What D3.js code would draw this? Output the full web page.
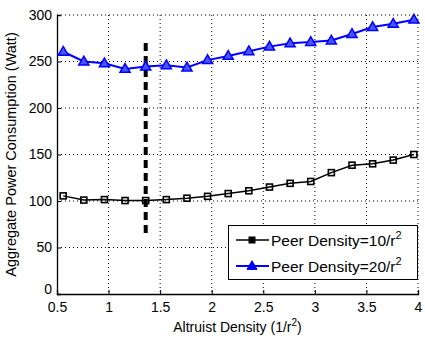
<!DOCTYPE html>
<html><head><meta charset="utf-8">
<script src="https://cdn.jsdelivr.net/npm/d3@7"></script>
<style>body{margin:0;background:#fff;} text{font-family:"Liberation Sans",Arial,sans-serif;}</style>
</head><body>
<script>
const xValues = [0.56,0.76,0.96,1.16,1.36,1.56,1.76,1.96,2.16,2.36,2.56,2.76,2.96,3.16,3.36,3.56,3.76,3.96];
const peer10 = [105.5,101,101.5,100.5,100.5,101.5,103,105,108,111,115,119,121,130.5,138.5,140,144,150];
const peer20 = [260.5,250,248,242,244.5,246,243.5,251.5,256,261,266,269.5,271,272.5,279.5,287,290.5,295];
const seriesNames = ["Peer Density=10/r", "Peer Density=20/r"];
const xTicks = [0.5,1,1.5,2,2.5,3,3.5,4];
const yTicks = [0,50,100,150,200,250,300];
const markerX = 1.36, markerRange = [62, 270];

const W=425,H=337, L=57,R=418,T=15,B=294;
const svg=d3.select("body").append("svg").attr("width",W).attr("height",H);
const x=d3.scaleLinear().domain([0.5,4]).range([L,R]);
const y=d3.scaleLinear().domain([0,300]).range([B,T]);

// grid
svg.append("g").selectAll("line").data(yTicks.filter(d=>d>0)).join("line")
 .attr("x1",L).attr("x2",R).attr("y1",d=>y(d)).attr("y2",d=>y(d))
 .attr("stroke","#000").attr("stroke-width",1).attr("stroke-dasharray","1,3");
svg.append("g").selectAll("line").data(xTicks.filter(d=>d>0.5)).join("line")
 .attr("y1",T).attr("y2",B).attr("x1",d=>x(d)).attr("x2",d=>x(d))
 .attr("stroke","#000").attr("stroke-width",1).attr("stroke-dasharray","1,3");

// axes
const xa=svg.append("g").attr("transform",`translate(0,${B})`)
 .call(d3.axisBottom(x).tickValues(xTicks).tickSize(-4).tickPadding(8).tickFormat(d=>d));
const ya=svg.append("g").attr("transform",`translate(${L},0)`)
 .call(d3.axisLeft(y).tickValues(yTicks).tickSize(-4).tickPadding(5));
[xa,ya].forEach(a=>{a.selectAll("text").attr("font-size",14).attr("fill","#000").attr("font-family","Liberation Sans, Arial, sans-serif");
 a.select(".domain").attr("stroke","#000").attr("stroke-width",1.3);
 a.selectAll(".tick line").attr("stroke","#000");});
ya.selectAll(".tick text").filter(d=>d===0).attr("dy","-0.05em");

// dashed vertical marker
svg.append("line").attr("x1",x(markerX)).attr("x2",x(markerX))
 .attr("y1",y(markerRange[1])).attr("y2",y(markerRange[0]))
 .attr("stroke","#000").attr("stroke-width",4).attr("stroke-dasharray","8,5");

const line=d3.line().x((d,i)=>x(xValues[i])).y(d=>y(d));
// black series
svg.append("path").datum(peer10).attr("d",line).attr("fill","none").attr("stroke","#000").attr("stroke-width",1.5);
svg.append("g").selectAll("rect").data(peer10).join("rect")
 .attr("x",(d,i)=>x(xValues[i])-3).attr("y",d=>y(d)-3).attr("width",6).attr("height",6)
 .attr("fill","none").attr("stroke","#000").attr("stroke-width",1.6);
// blue series
svg.append("path").datum(peer20).attr("d",line).attr("fill","none").attr("stroke","#0000ff").attr("stroke-width",2);
const tri=d3.symbol().type(d3.symbolTriangle).size(44);
svg.append("g").selectAll("path").data(peer20).join("path")
 .attr("d",tri).attr("transform",(d,i)=>`translate(${x(xValues[i])},${y(d)+0.5})`)
 .attr("fill","#4a55ff").attr("stroke","#0000ff").attr("stroke-width",1.5);

// legend
const lg=svg.append("g");
lg.append("rect").attr("x",228.5).attr("y",225.5).attr("width",189).attr("height",54)
 .attr("fill","#fff").attr("stroke","#000").attr("stroke-width",1);
const items=[{c:"#000",y:240,n:seriesNames[0],m:"sq"},{c:"#0000ff",y:266,n:seriesNames[1],m:"tri"}];
items.forEach(it=>{
 lg.append("line").attr("x1",236).attr("x2",269).attr("y1",it.y).attr("y2",it.y).attr("stroke",it.c).attr("stroke-width",it.m=="sq"?1.5:2);
 if(it.m=="sq") lg.append("rect").attr("x",249).attr("y",it.y-3).attr("width",6).attr("height",6).attr("fill","#000").attr("stroke","#000");
 else lg.append("path").attr("d",tri).attr("transform",`translate(252,${it.y+0.5})`).attr("fill","#0000ff").attr("stroke","#0000ff");
 const t=lg.append("text").attr("x",271).attr("y",it.y+5.5).attr("font-size",15.5).attr("fill","#000");
 t.append("tspan").text(it.n);
 t.append("tspan").attr("dy",-7).attr("font-size",11).text("2");
});

// axis titles
const xt=svg.append("text").attr("x",(L+R)/2).attr("y",332).attr("text-anchor","middle").attr("font-size",14);
xt.append("tspan").text("Altruist Density (1/r");
xt.append("tspan").attr("dy",-6).attr("font-size",10).text("2");
xt.append("tspan").attr("dy",6).text(")");
svg.append("text").attr("transform",`translate(16,${(T+B)/2}) rotate(-90)`).attr("text-anchor","middle")
 .attr("font-size",14.5).text("Aggregate Power Consumption (Watt)");
</script>
</body></html>
